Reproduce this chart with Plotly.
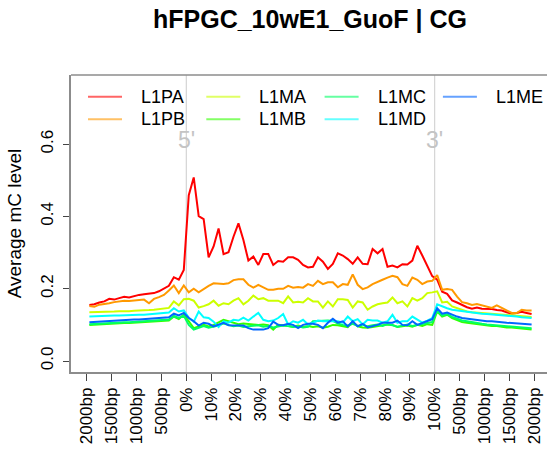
import plotly.graph_objects as go

# Metaplot of average CG methylation over L1 subfamilies:
# 20 bins upstream (2 kb), 50 bins across the element body, 20 bins downstream (2 kb).
series_names = ["L1PA", "L1PB", "L1MA", "L1MB", "L1MC", "L1MD", "L1ME"]
series_colors = ["#FF0000", "#FF9900", "#CCFF00", "#33FF00", "#00FF66", "#00FFFF", "#0066FF"]

L1PA = [0.155, 0.157, 0.162, 0.165, 0.172, 0.170, 0.174, 0.178, 0.176, 0.180,
        0.183, 0.185, 0.186, 0.188, 0.193, 0.200, 0.208, 0.232, 0.225, 0.252,
        0.459, 0.508, 0.401, 0.393, 0.287, 0.317, 0.367, 0.296, 0.301, 0.344,
        0.381, 0.335, 0.278, 0.289, 0.266, 0.296, 0.296, 0.266, 0.277, 0.275,
        0.287, 0.287, 0.280, 0.266, 0.259, 0.261, 0.287, 0.275, 0.255, 0.269,
        0.298, 0.292, 0.282, 0.269, 0.287, 0.269, 0.268, 0.310, 0.298, 0.310,
        0.261, 0.264, 0.259, 0.268, 0.267, 0.278, 0.319, 0.292, 0.262, 0.235,
        0.225, 0.192, 0.186, 0.168, 0.162, 0.155, 0.149, 0.145, 0.148, 0.145,
        0.145, 0.144, 0.141, 0.140, 0.135, 0.131, 0.133, 0.136, 0.133, 0.130]
L1PB = [0.152, 0.150, 0.156, 0.157, 0.160, 0.163, 0.165, 0.167, 0.166, 0.168,
        0.169, 0.170, 0.160, 0.172, 0.177, 0.183, 0.195, 0.209, 0.188, 0.209,
        0.190, 0.200, 0.190, 0.200, 0.208, 0.215, 0.213, 0.213, 0.215, 0.224,
        0.226, 0.226, 0.211, 0.203, 0.211, 0.203, 0.197, 0.197, 0.200, 0.200,
        0.208, 0.203, 0.205, 0.203, 0.213, 0.208, 0.222, 0.213, 0.218, 0.218,
        0.204, 0.213, 0.211, 0.240, 0.211, 0.199, 0.204, 0.213, 0.218, 0.225,
        0.231, 0.236, 0.232, 0.213, 0.208, 0.231, 0.225, 0.213, 0.220, 0.222,
        0.238, 0.197, 0.199, 0.197, 0.178, 0.163, 0.160, 0.155, 0.158, 0.155,
        0.151, 0.147, 0.154, 0.147, 0.140, 0.133, 0.133, 0.142, 0.140, 0.140]
L1MA = [0.135, 0.135, 0.136, 0.137, 0.137, 0.137, 0.138, 0.137, 0.138, 0.139,
        0.139, 0.140, 0.141, 0.142, 0.144, 0.146, 0.147, 0.165, 0.154, 0.171,
        0.172, 0.167, 0.148, 0.152, 0.157, 0.167, 0.153, 0.160, 0.157, 0.167,
        0.174, 0.157, 0.167, 0.181, 0.171, 0.174, 0.167, 0.167, 0.167, 0.160,
        0.179, 0.162, 0.164, 0.162, 0.174, 0.165, 0.165, 0.148, 0.165, 0.151,
        0.171, 0.171, 0.169, 0.148, 0.165, 0.162, 0.142, 0.151, 0.157, 0.160,
        0.162, 0.176, 0.160, 0.165, 0.151, 0.174, 0.167, 0.174, 0.188, 0.190,
        0.193, 0.162, 0.164, 0.151, 0.146, 0.140, 0.137, 0.135, 0.134, 0.133,
        0.133, 0.131, 0.129, 0.130, 0.128, 0.126, 0.125, 0.125, 0.123, 0.122]
L1MB = [0.100, 0.101, 0.102, 0.103, 0.103, 0.104, 0.104, 0.105, 0.105, 0.106,
        0.106, 0.107, 0.107, 0.108, 0.109, 0.110, 0.112, 0.123, 0.116, 0.129,
        0.109, 0.091, 0.096, 0.100, 0.096, 0.100, 0.107, 0.114, 0.110, 0.106,
        0.102, 0.104, 0.103, 0.100, 0.100, 0.101, 0.099, 0.087, 0.100, 0.099,
        0.096, 0.095, 0.098, 0.094, 0.097, 0.094, 0.096, 0.092, 0.095, 0.100,
        0.099, 0.097, 0.094, 0.108, 0.096, 0.093, 0.092, 0.094, 0.097, 0.098,
        0.101, 0.100, 0.094, 0.096, 0.098, 0.095, 0.100, 0.097, 0.102, 0.100,
        0.137, 0.123, 0.128, 0.119, 0.113, 0.108, 0.106, 0.104, 0.101, 0.100,
        0.098, 0.097, 0.097, 0.094, 0.093, 0.093, 0.091, 0.090, 0.088, 0.087]
L1MC = [0.102, 0.103, 0.104, 0.104, 0.105, 0.106, 0.106, 0.107, 0.107, 0.108,
        0.108, 0.109, 0.109, 0.110, 0.111, 0.113, 0.115, 0.125, 0.119, 0.125,
        0.100, 0.087, 0.091, 0.097, 0.092, 0.095, 0.098, 0.104, 0.100, 0.096,
        0.098, 0.094, 0.096, 0.097, 0.099, 0.095, 0.097, 0.093, 0.096, 0.098,
        0.097, 0.094, 0.096, 0.093, 0.095, 0.110, 0.111, 0.112, 0.112, 0.111,
        0.104, 0.100, 0.098, 0.103, 0.097, 0.100, 0.096, 0.099, 0.101, 0.097,
        0.102, 0.099, 0.095, 0.098, 0.101, 0.097, 0.100, 0.102, 0.104, 0.108,
        0.140, 0.126, 0.130, 0.122, 0.117, 0.112, 0.110, 0.107, 0.105, 0.103,
        0.101, 0.100, 0.099, 0.098, 0.096, 0.095, 0.094, 0.093, 0.092, 0.091]
L1MD = [0.123, 0.124, 0.124, 0.125, 0.125, 0.126, 0.126, 0.127, 0.127, 0.127,
        0.128, 0.128, 0.129, 0.131, 0.132, 0.133, 0.134, 0.146, 0.137, 0.140,
        0.120, 0.109, 0.137, 0.121, 0.119, 0.109, 0.094, 0.110, 0.106, 0.114,
        0.112, 0.120, 0.112, 0.123, 0.133, 0.114, 0.110, 0.112, 0.119, 0.130,
        0.101, 0.110, 0.106, 0.114, 0.101, 0.106, 0.112, 0.110, 0.110, 0.112,
        0.110, 0.106, 0.123, 0.110, 0.116, 0.101, 0.114, 0.112, 0.112, 0.106,
        0.110, 0.128, 0.106, 0.110, 0.110, 0.123, 0.114, 0.106, 0.112, 0.119,
        0.157, 0.151, 0.146, 0.142, 0.140, 0.137, 0.135, 0.134, 0.133, 0.131,
        0.130, 0.129, 0.129, 0.127, 0.125, 0.124, 0.123, 0.121, 0.120, 0.119]
L1ME = [0.107, 0.108, 0.110, 0.111, 0.112, 0.113, 0.114, 0.114, 0.115, 0.115,
        0.115, 0.116, 0.116, 0.116, 0.117, 0.119, 0.121, 0.131, 0.126, 0.133,
        0.119, 0.110, 0.098, 0.106, 0.103, 0.096, 0.100, 0.106, 0.099, 0.099,
        0.100, 0.098, 0.091, 0.087, 0.087, 0.087, 0.091, 0.109, 0.100, 0.099,
        0.103, 0.100, 0.091, 0.100, 0.103, 0.103, 0.100, 0.091, 0.106, 0.117,
        0.106, 0.110, 0.096, 0.110, 0.096, 0.103, 0.093, 0.096, 0.100, 0.106,
        0.106, 0.106, 0.112, 0.100, 0.099, 0.110, 0.100, 0.106, 0.110, 0.116,
        0.146, 0.131, 0.134, 0.128, 0.123, 0.119, 0.117, 0.115, 0.114, 0.112,
        0.110, 0.110, 0.108, 0.107, 0.106, 0.105, 0.104, 0.103, 0.102, 0.101]
series_values = [L1PA, L1PB, L1MA, L1MB, L1MC, L1MD, L1ME]

tick_labels = ["2000bp", "1500bp", "1000bp", "500bp",
               "0%", "10%", "20%", "30%", "40%", "50%", "60%", "70%", "80%", "90%", "100%",
               "500bp", "1000bp", "1500bp", "2000bp"]
boundary_labels = ["5'", "3'"]

n_bins = len(L1PA)
bin_centres = [i + 0.5 for i in range(n_bins)]
bins_per_tick = 5
tick_positions = [k * bins_per_tick for k in range(len(tick_labels))]
boundary_positions = [tick_positions[4], tick_positions[14]]

FONT = "Liberation Sans, Arial, Helvetica, sans-serif"

# page geometry (pixels)
W, H = 547, 452
M_L, M_R, M_T, M_B = 71, 0, 75, 80
PLOT_W = W - M_L - M_R
PLOT_H = H - M_T - M_B


def px_to_paper_x(px):
    return (px - M_L) / PLOT_W


def px_to_paper_y(py):
    return (H - M_B - py) / PLOT_H


fig = go.Figure()
for name, color, values in zip(series_names, series_colors, series_values):
    fig.add_trace(go.Scatter(
        x=bin_centres, y=values, mode="lines", name=name,
        line=dict(color=color, width=2), showlegend=False,
    ))

for xb, lab in zip(boundary_positions, boundary_labels):
    fig.add_shape(type="line", xref="x", yref="paper", x0=xb, x1=xb, y0=0, y1=1,
                  line=dict(color="#CCCCCC", width=1), layer="below")
    fig.add_annotation(x=xb, y=0.611, xref="x", yref="y", text=lab, showarrow=False,
                       font=dict(family=FONT, size=23, color="#C4C4C4"))

# key: four columns, filled top-to-bottom, inside the top of the plotting region
KEY_X0, KEY_COL_STEP, KEY_LINE_LEN, KEY_TEXT_GAP = 88, 118.3, 34, 51
KEY_ROW_Y = [96.7, 119.3]
for k, (name, color) in enumerate(zip(series_names, series_colors)):
    col, row = divmod(k, 2)
    lx = KEY_X0 + col * KEY_COL_STEP
    ly = KEY_ROW_Y[row]
    fig.add_shape(type="line", xref="paper", yref="paper",
                  x0=px_to_paper_x(lx), x1=px_to_paper_x(lx + KEY_LINE_LEN),
                  y0=px_to_paper_y(ly), y1=px_to_paper_y(ly),
                  line=dict(color=color, width=2), opacity=0.6)
    fig.add_annotation(xref="paper", yref="paper", x=px_to_paper_x(lx + KEY_TEXT_GAP),
                       y=px_to_paper_y(ly), text=name, showarrow=False,
                       xanchor="left", yanchor="middle",
                       font=dict(family=FONT, size=18, color="black"))

# frame: top edge of the plotting region
fig.add_shape(type="line", xref="paper", yref="paper", x0=0, x1=1, y0=1, y1=1,
              line=dict(color="#8C8C8C", width=1.5))

fig.update_layout(
    width=W, height=H,
    margin=dict(l=M_L, r=M_R, t=M_T, b=M_B),
    paper_bgcolor="white", plot_bgcolor="white",
    font=dict(family=FONT, size=17, color="black"),
    title=dict(text="<b>hFPGC_10wE1_GuoF | CG</b>", x=310 / W, xref="container",
               xanchor="center", y=1 - 19 / H, yanchor="middle",
               font=dict(family=FONT, size=25, color="black")),
    showlegend=False,
    xaxis=dict(range=[-3.2, 92.6], tickmode="array", tickvals=tick_positions,
               ticktext=tick_labels, tickangle=-90, ticks="outside", ticklen=7,
               tickcolor="#444444", showgrid=False, zeroline=False,
               showline=True, linecolor="#8C8C8C", linewidth=1.5,
               tickfont=dict(family=FONT, size=17, color="black")),
    yaxis=dict(range=[-0.0304, 0.7917], tickmode="array", tickvals=[0, 0.2, 0.4, 0.6],
               ticktext=["0.0", "0.2", "0.4", "0.6"], tickangle=-90, ticks="outside",
               ticklen=6, tickcolor="#444444", showgrid=False, zeroline=False,
               showline=True, linecolor="#8C8C8C", linewidth=1.5,
               ticklabelstandoff=3,
               title=dict(text="Average mC level", standoff=12,
                          font=dict(family=FONT, size=19, color="black")),
               tickfont=dict(family=FONT, size=17, color="black")),
)

fig.write_html("out.html")
